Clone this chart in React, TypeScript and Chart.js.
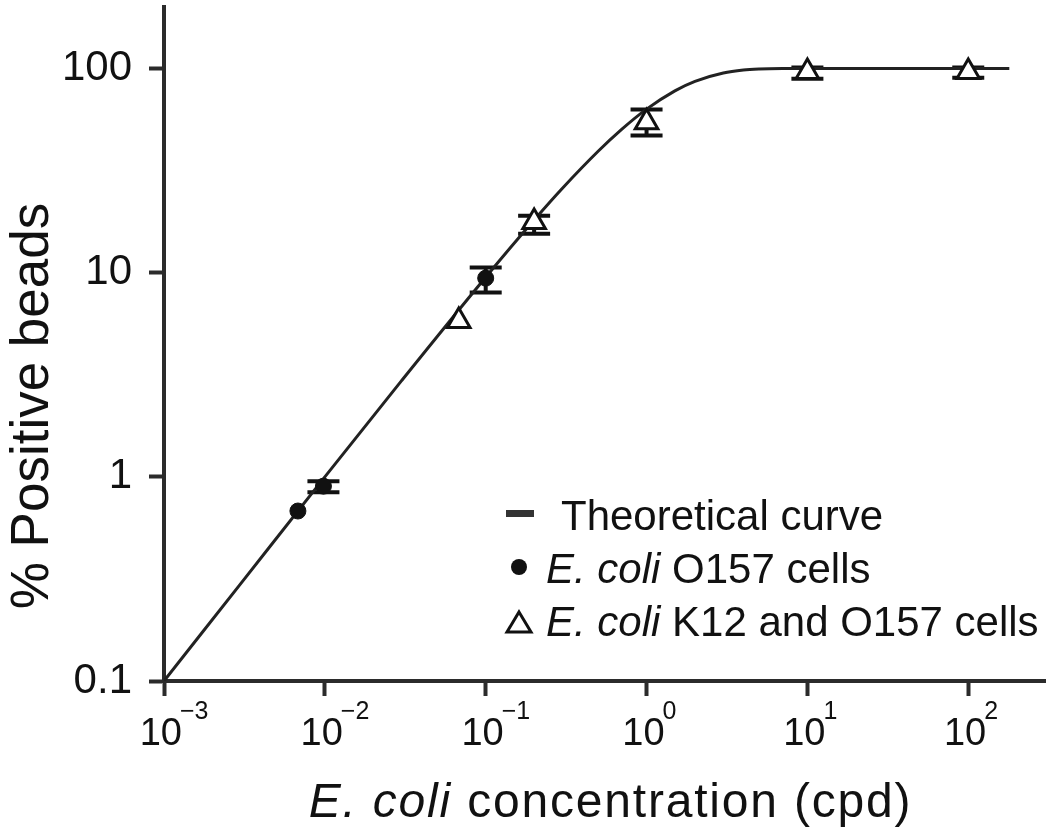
import React, { useEffect, useRef } from 'react';
import { Chart, registerables } from 'chart.js';

Chart.register(...registerables);

// Theoretical curve
const curveX = [0.001, 0.003, 0.01, 0.03, 0.1, 0.2, 0.3, 0.5, 0.7, 1, 1.5, 2, 3, 4, 5, 7, 10, 30, 100, 180];
const curveY = [0.1, 0.3, 1.0, 2.96, 9.5, 18.1, 25.9, 39.3, 50.3, 63.2, 77.7, 86.5, 95.0, 98.2, 99.3, 99.9, 100, 100, 100, 100];

// E. coli O157 cells (filled circles)
const o157X = [0.0068, 0.0098, 0.1];
const o157Y = [0.68, 0.9, 9.4];
const o157Low: (number | null)[] = [null, 0.84, 8.0];
const o157High: (number | null)[] = [null, 0.95, 10.6];

// E. coli K12 and O157 cells (open triangles)
const k12X = [0.068, 0.2, 1, 10, 100];
const k12Y = [5.8, 17.7, 54.5, 96, 96];
const k12Low: (number | null)[] = [null, 15.5, 47, 89, 90];
const k12High: (number | null)[] = [null, 19, 63, 101, 101];

const xTickExps = [-3, -2, -1, 0, 1, 2];
const yTickValues = [0.1, 1, 10, 100];
const yTickLabels = ['0.1', '1', '10', '100'];

const FONT = '"Liberation Sans", Arial, Helvetica, sans-serif';
const AXIS = '#2b2b2b';
const INK = '#111';

const errorBarsPlugin = {
  id: 'errorBars',
  beforeDatasetsDraw(chart: any) {
    const ctx = chart.ctx;
    const xs = chart.scales.x;
    const ys = chart.scales.y;
    ctx.save();
    ctx.strokeStyle = INK;
    ctx.lineWidth = 4;
    const draw = (xa: number[], lo: (number | null)[], hi: (number | null)[]) => {
      for (let i = 0; i < xa.length; i++) {
        const l = lo[i];
        const h = hi[i];
        if (l == null || h == null) continue;
        const px = xs.getPixelForValue(xa[i]);
        const pl = ys.getPixelForValue(l);
        const ph = ys.getPixelForValue(h);
        ctx.beginPath();
        ctx.moveTo(px, pl);
        ctx.lineTo(px, ph);
        ctx.moveTo(px - 16, pl);
        ctx.lineTo(px + 16, pl);
        ctx.moveTo(px - 16, ph);
        ctx.lineTo(px + 16, ph);
        ctx.stroke();
      }
    };
    draw(o157X, o157Low, o157High);
    draw(k12X, k12Low, k12High);
    ctx.restore();
  },
};

const xTickLabelPlugin = {
  id: 'xTickLabels',
  afterDraw(chart: any) {
    const ctx = chart.ctx;
    const xs = chart.scales.x;
    ctx.save();
    ctx.fillStyle = INK;
    ctx.textBaseline = 'alphabetic';
    for (const e of xTickExps) {
      const px = xs.getPixelForValue(Math.pow(10, e));
      ctx.font = `38px ${FONT}`;
      ctx.textAlign = 'right';
      ctx.fillText('10', px + 18, 745);
      ctx.font = `25px ${FONT}`;
      ctx.textAlign = 'left';
      ctx.fillText(e < 0 ? '\u2212' + Math.abs(e) : String(e), px + 16, 719);
    }
    ctx.restore();
  },
};

const zeroPad = (s: any) => {
  s.paddingTop = 0;
  s.paddingBottom = 0;
  s.paddingLeft = 0;
  s.paddingRight = 0;
};

export default function App() {
  const canvasRef = useRef<HTMLCanvasElement | null>(null);

  useEffect(() => {
    const canvas = canvasRef.current;
    if (!canvas) return;
    const chart = new Chart(canvas, {
      type: 'scatter',
      data: {
        datasets: [
          {
            type: 'line',
            label: 'Theoretical curve',
            data: curveX.map((x, i) => ({ x, y: curveY[i] })),
            borderColor: '#222',
            borderWidth: 3,
            pointRadius: 0,
            showLine: true,
            fill: false,
            cubicInterpolationMode: 'monotone',
            order: 3,
          } as any,
          {
            label: 'E. coli O157 cells',
            data: o157X.map((x, i) => ({ x, y: o157Y[i] })),
            pointStyle: 'circle',
            pointRadius: 8,
            backgroundColor: INK,
            borderColor: INK,
            borderWidth: 1,
            order: 1,
          },
          {
            label: 'E. coli K12 and O157 cells',
            data: k12X.map((x, i) => ({ x, y: k12Y[i] })),
            pointStyle: 'triangle',
            pointRadius: 13,
            backgroundColor: '#fff',
            borderColor: INK,
            borderWidth: 3,
            order: 2,
          },
        ],
      },
      options: {
        animation: false,
        responsive: false,
        maintainAspectRatio: false,
        layout: { autoPadding: false, padding: { top: 7, right: 5, left: 0, bottom: 0 } },
        plugins: {
          legend: { display: false },
          tooltip: { enabled: false },
        },
        scales: {
          x: {
            type: 'logarithmic',
            position: 'bottom',
            min: 0.001,
            max: 300,
            afterBuildTicks: (s: any) => {
              s.ticks = xTickExps.map((e) => ({ value: Math.pow(10, e) }));
            },
            afterFit: (s: any) => {
              s.height = 153;
              zeroPad(s);
            },
            grid: {
              display: true,
              drawOnChartArea: false,
              drawTicks: true,
              tickLength: 15,
              tickWidth: 4,
              tickColor: AXIS,
            },
            border: { display: true, color: AXIS, width: 4 },
            ticks: { display: false },
          },
          y: {
            type: 'logarithmic',
            min: 0.1,
            max: 200,
            afterBuildTicks: (s: any) => {
              s.ticks = yTickValues.map((v) => ({ value: v }));
            },
            afterFit: (s: any) => {
              s.width = 164;
              zeroPad(s);
            },
            grid: {
              display: true,
              drawOnChartArea: false,
              drawTicks: true,
              tickLength: 15,
              tickWidth: 4,
              tickColor: AXIS,
            },
            border: { display: true, color: AXIS, width: 4 },
            ticks: {
              padding: 17,
              color: INK,
              font: { family: FONT, size: 42 },
              callback: (v: any) => {
                const idx = yTickValues.findIndex((t) => Math.abs(t - Number(v)) < 1e-9 * Math.max(1, t));
                return idx >= 0 ? yTickLabels[idx] : '';
              },
            },
          },
        },
      } as any,
      plugins: [errorBarsPlugin, xTickLabelPlugin],
    });
    return () => chart.destroy();
  }, []);

  const textBase: React.CSSProperties = {
    position: 'absolute',
    fontFamily: FONT,
    color: INK,
    whiteSpace: 'nowrap',
  };

  return (
    <div style={{ position: 'fixed', left: 0, top: 0, width: 1050, height: 834, background: '#fff', overflow: 'hidden' }}>
      <canvas ref={canvasRef} width={1050} height={834} style={{ position: 'absolute', left: 0, top: 0, width: 1050, height: 834 }} />
      <svg width={1050} height={834} style={{ position: 'absolute', left: 0, top: 0, pointerEvents: 'none' }}>
        <rect x={506} y={510} width={28} height={7} fill="#333" />
        <circle cx={519} cy={567} r={8} fill={INK} />
        <polygon points="519,612 531,632 507,632" fill="#fff" stroke={INK} strokeWidth={3} strokeLinejoin="miter" />
      </svg>
      <div style={{ ...textBase, left: 561, top: 495, fontSize: 42, lineHeight: '42px' }}>Theoretical curve</div>
      <div style={{ ...textBase, left: 546, top: 548, fontSize: 42, lineHeight: '42px' }}>
        <i>E. coli</i> O157 cells
      </div>
      <div style={{ ...textBase, left: 546, top: 601, fontSize: 42, lineHeight: '42px' }}>
        <i>E. coli</i> K12 and O157 cells
      </div>
      <div
        style={{
          ...textBase,
          left: 170,
          width: 881,
          top: 777,
          textAlign: 'center',
          fontSize: 48,
          lineHeight: '48px',
          letterSpacing: '1.8px',
        }}
      >
        <i>E. coli</i> concentration (cpd)
      </div>
      <div
        style={{
          ...textBase,
          left: 30 - 250,
          top: 406 - 30,
          width: 500,
          height: 60,
          textAlign: 'center',
          fontSize: 53,
          lineHeight: '60px',
          transform: 'rotate(-90deg)',
          transformOrigin: '250px 30px',
        }}
      >
        % Positive beads
      </div>
    </div>
  );
}
